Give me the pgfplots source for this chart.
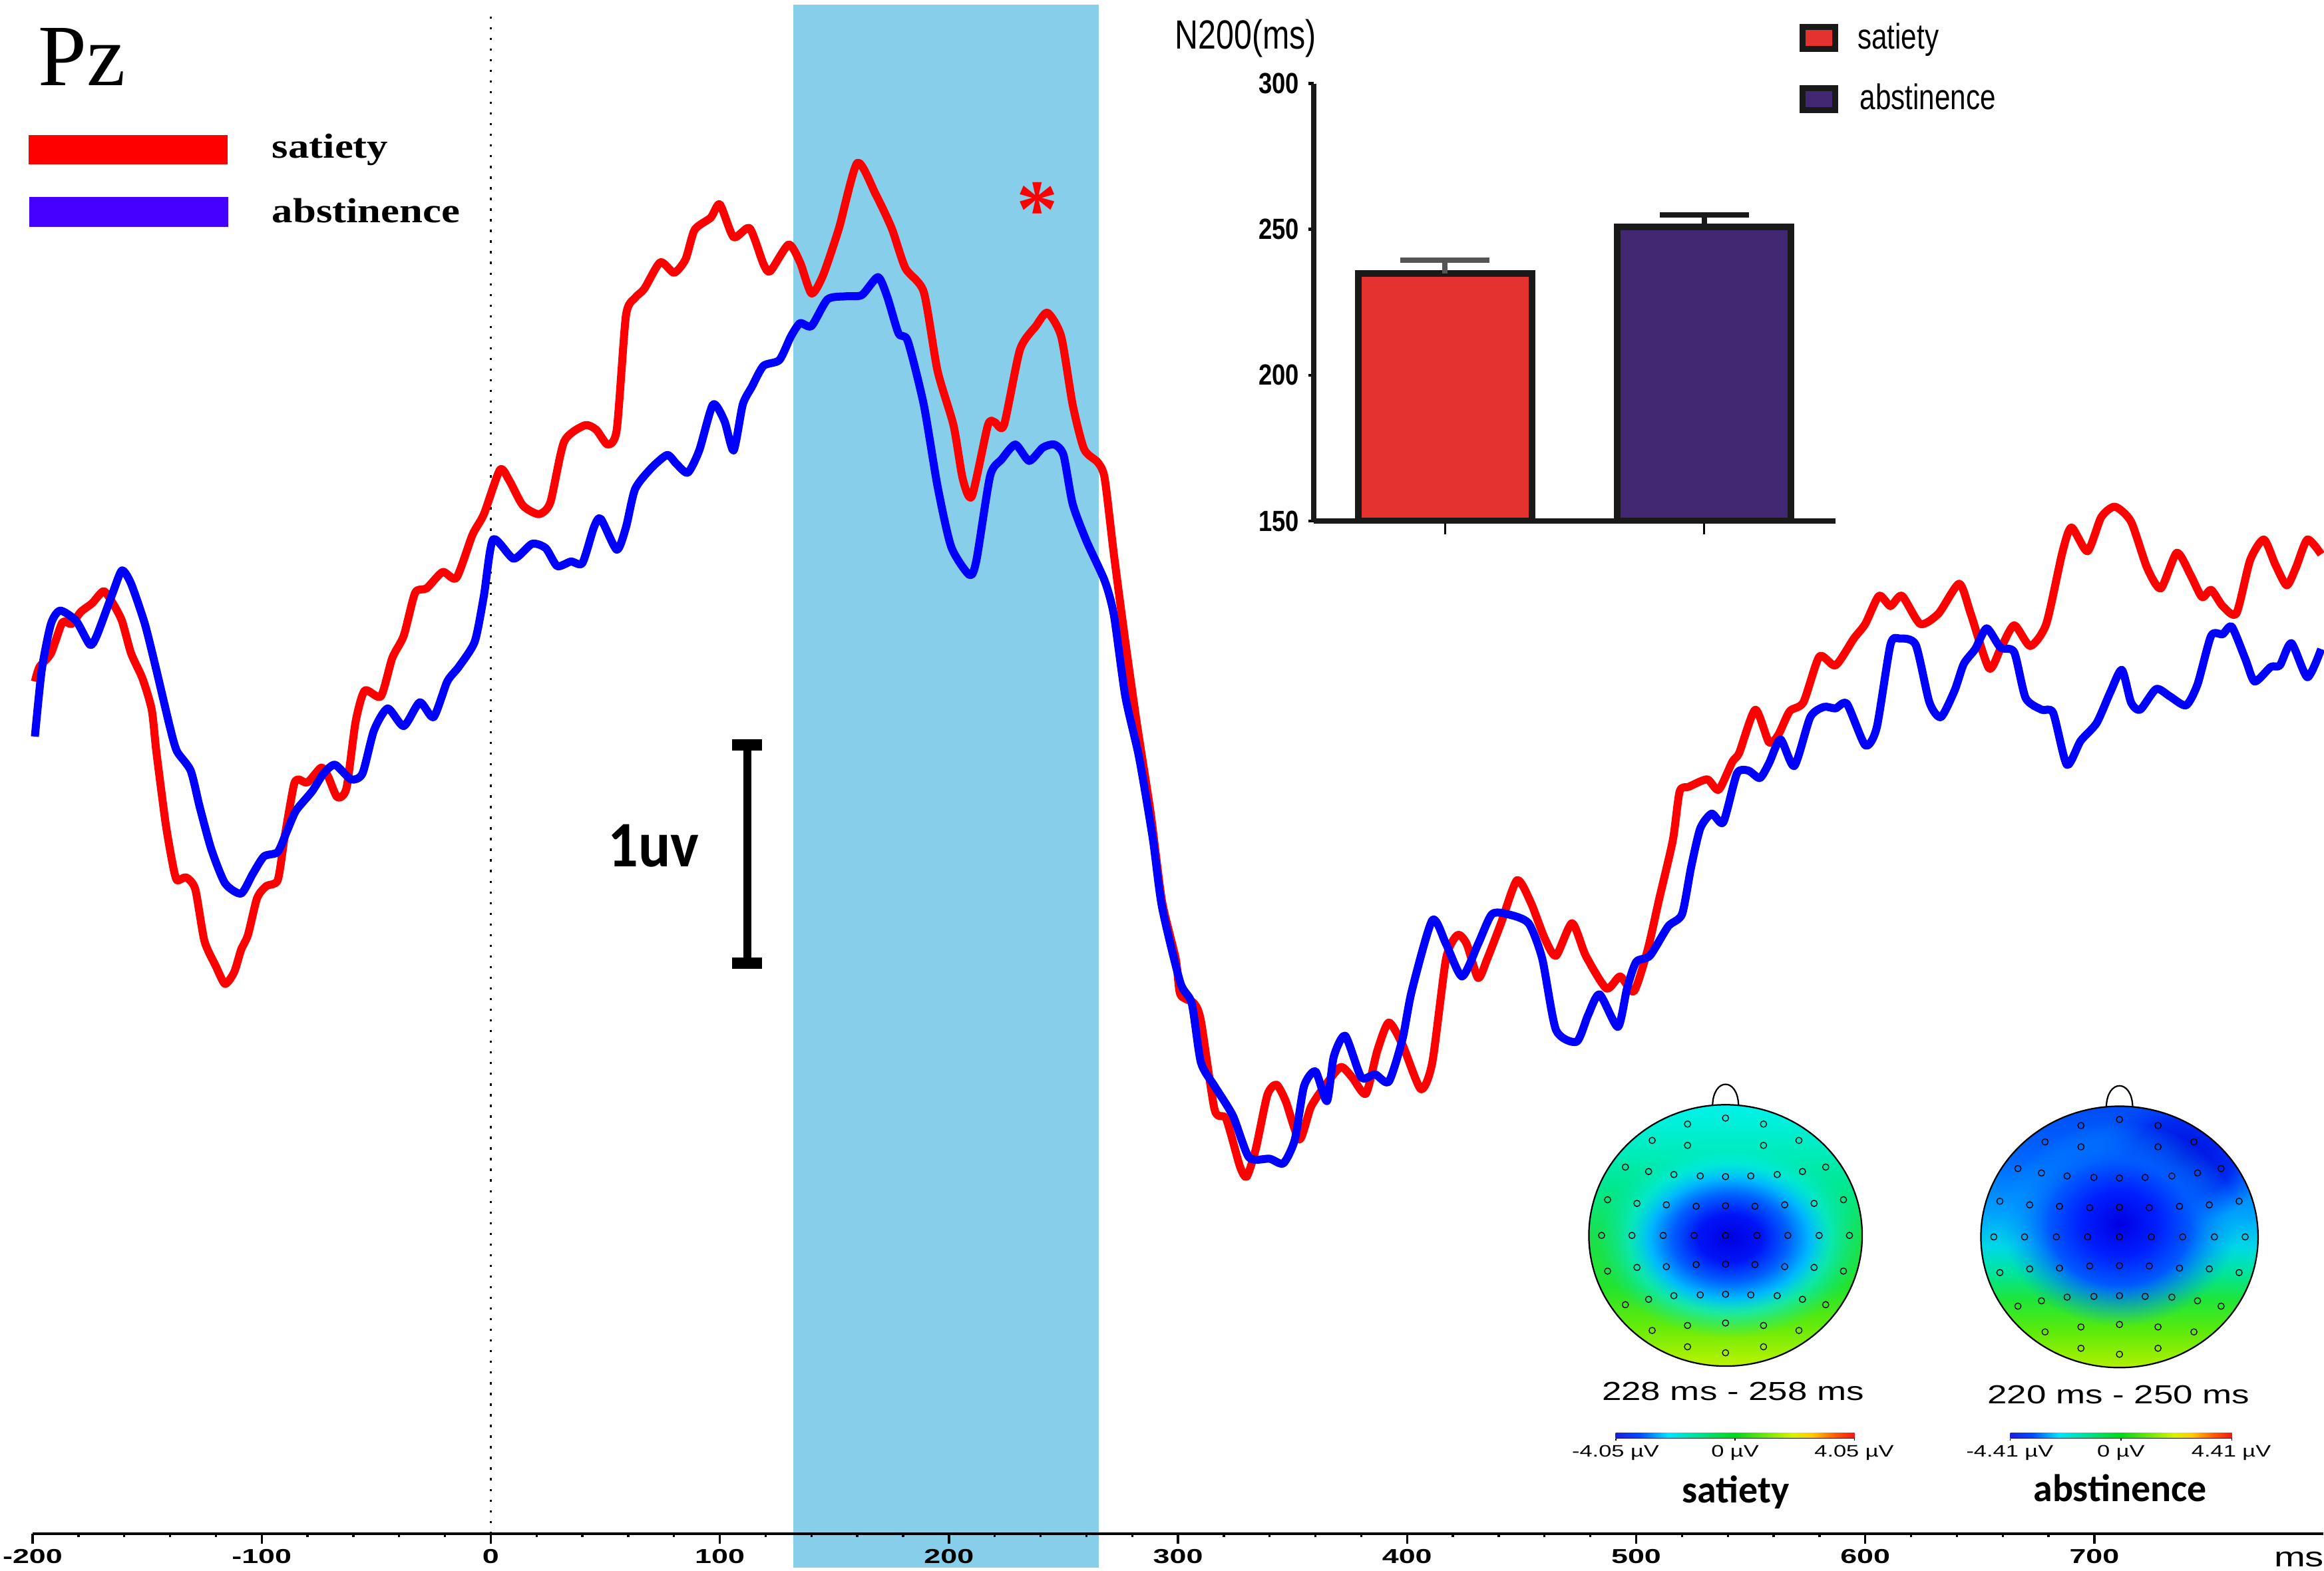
\documentclass[border=0pt]{standalone}
\usepackage{fontspec}
\setmainfont{Liberation Sans}
\newfontfamily\arialf{Liberation Sans}
\newfontfamily\timesf{Liberation Serif}
\newfontfamily\calibrif{Carlito}
\usepackage{pgfplots}
\usepackage{pgfplotstable}
\pgfplotsset{compat=1.18}
\usetikzlibrary{fadings}

\definecolor{erpred}{RGB}{255,0,0}
\definecolor{erpblue}{RGB}{0,0,255}
\definecolor{legblue}{RGB}{68,0,255}
\definecolor{skyband}{RGB}{135,206,235}
\definecolor{satred}{RGB}{228,51,46}
\definecolor{abspurple}{RGB}{66,40,115}
\definecolor{errgray}{RGB}{85,85,85}

% topographic map colourings
\pgfdeclareverticalshading{satbase}{100bp}{rgb(0bp)=(0.74,0.95,0); rgb(25bp)=(0.74,0.95,0); rgb(33bp)=(0.38,0.92,0.04); rgb(40bp)=(0.14,0.89,0.18); rgb(50bp)=(0.10,0.88,0.30); rgb(60bp)=(0.0,0.91,0.58); rgb(68bp)=(0.0,0.93,0.78); rgb(75bp)=(0.0,0.95,0.92); rgb(100bp)=(0.0,0.95,0.92)}
\pgfdeclareradialshading{satblob}{\pgfpointorigin}{rgb(0bp)=(0,0,0.88); rgb(6bp)=(0,0.08,0.97); rgb(11bp)=(0,0.38,1); rgb(15bp)=(0,0.72,1); rgb(19bp)=(0,0.92,0.95); rgb(25bp)=(0,0.92,0.75); rgb(50bp)=(0,0.92,0.75)}
\pgfdeclareverticalshading{absbase}{100bp}{rgb(0bp)=(0.70,0.94,0); rgb(25bp)=(0.70,0.94,0); rgb(32bp)=(0.36,0.92,0.04); rgb(38bp)=(0.12,0.90,0.22); rgb(43bp)=(0.0,0.90,0.60); rgb(48bp)=(0.0,0.85,0.90); rgb(55bp)=(0.0,0.62,1.0); rgb(65bp)=(0.0,0.40,1.0); rgb(75bp)=(0.0,0.30,0.96); rgb(100bp)=(0.0,0.30,0.96)}
\pgfdeclareradialshading{absblob}{\pgfpointorigin}{rgb(0bp)=(0,0,0.88); rgb(8bp)=(0,0.12,1); rgb(16bp)=(0,0.38,1); rgb(25bp)=(0,0.6,1); rgb(50bp)=(0,0.6,1)}
\pgfdeclareradialshading{absblobb}{\pgfpointorigin}{rgb(0bp)=(0,0.04,0.86); rgb(25bp)=(0,0.25,1); rgb(50bp)=(0,0.25,1)}
\pgfdeclareradialshading{blobfadeshade}{\pgfpointorigin}{color(0bp)=(white); color(15bp)=(white); color(25bp)=(black); color(50bp)=(black)}
\pgfdeclarefading{blobfade}{\pgfuseshading{blobfadeshade}}
\pgfdeclarehorizontalshading{jetbar}{100bp}{rgb(0bp)=(0.12,0.12,0.85); rgb(25bp)=(0.12,0.12,0.85); rgb(30bp)=(0,0.3,1); rgb(36bp)=(0,0.9,1); rgb(50bp)=(0,0.85,0.1); rgb(62bp)=(0.85,0.95,0); rgb(66bp)=(1,0.8,0); rgb(71bp)=(1,0.35,0); rgb(75bp)=(0.95,0.1,0.1); rgb(100bp)=(0.95,0.1,0.1)}

\pgfplotstableread{
u v
-0.278 0.852
0 0.898
0.278 0.852
-0.537 0.727
-0.278 0.689
0.278 0.689
0.537 0.727
-0.733 0.523
-0.563 0.489
-0.378 0.466
-0.185 0.455
0 0.45
0.185 0.455
0.378 0.466
0.563 0.489
0.733 0.523
-0.863 0.273
-0.648 0.245
-0.433 0.234
-0.215 0.223
0 0.227
0.215 0.223
0.433 0.234
0.648 0.245
0.863 0.273
-0.907 0
-0.685 0
-0.456 0
-0.230 0
0 0
0.230 0
0.456 0
0.685 0
0.907 0
-0.863 -0.273
-0.648 -0.245
-0.433 -0.239
-0.215 -0.223
0 -0.220
0.215 -0.223
0.433 -0.239
0.648 -0.245
0.863 -0.273
-0.733 -0.530
-0.563 -0.489
-0.378 -0.461
-0.185 -0.455
0 -0.450
0.185 -0.455
0.378 -0.461
0.563 -0.489
0.733 -0.530
-0.537 -0.727
-0.278 -0.689
0 -0.670
0.278 -0.689
0.537 -0.727
-0.278 -0.852
0 -0.898
0.278 -0.852
}\electrodes

\begin{document}
\begin{tikzpicture}
\useasboundingbox (0,0) rectangle (784pt,530pt);

% ---------------- main ERP axis ----------------
\begin{axis}[
  at={(11pt,12.5pt)}, anchor=south west,
  x=0.7728pt, y=73.65pt,
  xmin=-200, xmax=800, ymin=0, ymax=7.03,
  enlargelimits=false, clip=false,
  axis x line*=bottom, axis y line=none,
  axis line style={line width=0.9pt, -},
  xtick={-200,-100,...,700},
  xticklabels={-200,-100,0,100,200,300,400,500,600,700},
  minor x tick num=4,
  tick align=outside,
  major tick length=3.4pt, minor tick length=1.2pt,
  tick style={black, line width=0.75pt},
  xticklabel style={font=\arialf\bfseries\fontsize{6.8}{7}\selectfont, xscale=1.48, inner sep=0pt, anchor=north, yshift=-1.7pt},
  ytick=\empty,
  axis on top,
]
\addplot[fill=skyband, draw=none, forget plot] coordinates {(132,-0.156) (265.3,-0.156) (265.3,7.006) (132,7.006)} -- cycle;
\draw[black, line width=0.6pt, dash pattern=on 0.75pt off 2.85pt] (axis cs:0,0) -- (axis cs:0,6.986);
% satiety
\addplot[erpred, line width=2.7pt, smooth, tension=0.4, line join=round] coordinates {
(-199,3.904) (-197,3.971) (-192,4.033) (-187,4.175) (-183,4.168) (-179,4.223) (-174,4.263) (-169,4.318) (-165,4.263) (-161,4.182) (-157,4.033) (-152,3.917) (-148,3.775) (-146,3.585) (-142,3.259) (-139,3.075) (-137,2.994) (-133,3.007) (-129,2.953) (-125,2.716) (-120,2.600) (-116,2.519) (-112,2.573) (-109,2.675) (-106,2.743) (-102,2.912) (-98,2.967) (-93,2.994) (-90,3.191) (-86,3.428) (-84,3.456) (-80,3.442) (-74,3.510) (-71,3.469) (-67,3.374) (-63,3.415) (-59,3.720) (-55,3.863) (-48,3.836) (-43,4.012) (-38,4.114) (-33,4.311) (-28,4.331) (-21,4.406) (-15,4.379) (-8,4.576) (-3,4.671) (4,4.874) (8,4.827) (14,4.711) (21,4.671) (26,4.725) (32,5.003) (41,5.078) (46,5.058) (51,4.990) (55,5.058) (59,5.580) (63,5.662) (67,5.703) (74,5.825) (80,5.777) (85,5.838) (89,5.974) (96,6.029) (100,6.090) (106,5.940) (113,5.981) (119,5.818) (122,5.784) (130,5.906) (135,5.825) (140,5.682) (145,5.764) (152,5.981) (160,6.280) (168,6.137) (175,5.981) (181,5.798) (189,5.689) (195,5.329) (202,5.078) (206,4.834) (210,4.752) (217,5.078) (220,5.092) (224,5.078) (231,5.424) (238,5.533) (243,5.594) (249,5.485) (254,5.173) (259,4.969) (265,4.908) (268,4.834) (272,4.487) (277,4.087) (282,3.714) (288,3.306) (293,2.899) (299,2.634) (301,2.471) (307,2.430) (310,2.349) (316,1.942) (321,1.901) (327,1.684) (330,1.636) (334,1.765) (339,2.010) (343,2.057) (347,1.982) (353,1.806) (358,1.955) (364,2.050) (371,2.138) (376,2.091) (382,2.016) (387,2.213) (392,2.342) (398,2.240) (406,2.037) (411,2.159) (417,2.634) (422,2.743) (426,2.702) (431,2.546) (435,2.634) (441,2.797) (448,2.994) (454,2.892) (460,2.729) (465,2.648) (472,2.797) (478,2.648) (487,2.498) (493,2.553) (499,2.485) (505,2.675) (510,2.906) (516,3.177) (519,3.401) (523,3.422) (531,3.456) (536,3.408) (542,3.537) (545,3.578) (552,3.775) (558,3.625) (562,3.659) (567,3.768) (573,3.809) (580,4.019) (587,3.978) (595,4.101) (600,4.168) (606,4.297) (611,4.250) (616,4.297) (624,4.168) (632,4.216) (641,4.352) (646,4.216) (654,3.965) (659,4.053) (665,4.162) (672,4.067) (679,4.168) (686,4.494) (690,4.610) (697,4.501) (703,4.657) (709,4.705) (716,4.637) (723,4.426) (729,4.331) (736,4.494) (742,4.392) (747,4.291) (751,4.324) (756,4.250) (762,4.216) (768,4.460) (774,4.555) (779,4.440) (784,4.345) (788,4.426) (793,4.555) (799,4.487)
};
% abstinence
\addplot[erpblue, line width=2.7pt, smooth, tension=0.4, line join=round] coordinates {
(-199,3.652) (-196,3.958) (-192,4.168) (-188,4.229) (-181,4.182) (-175,4.073) (-172,4.114) (-165,4.311) (-161,4.413) (-157,4.352) (-151,4.168) (-146,3.958) (-140,3.693) (-137,3.585) (-131,3.496) (-127,3.327) (-122,3.136) (-116,2.980) (-109,2.933) (-104,3.021) (-99,3.103) (-93,3.123) (-89,3.218) (-85,3.313) (-78,3.401) (-73,3.483) (-68,3.523) (-61,3.456) (-56,3.483) (-51,3.680) (-45,3.781) (-38,3.700) (-31,3.809) (-25,3.741) (-19,3.904) (-14,3.971) (-7,4.087) (-3,4.297) (1,4.555) (10,4.467) (18,4.535) (24,4.515) (29,4.433) (35,4.454) (40,4.447) (45,4.610) (48,4.650) (55,4.508) (59,4.610) (63,4.786) (70,4.881) (77,4.942) (81,4.902) (86,4.861) (91,4.963) (97,5.173) (102,5.098) (106,4.963) (110,5.173) (114,5.255) (119,5.350) (126,5.377) (131,5.485) (135,5.546) (140,5.533) (147,5.655) (155,5.669) (162,5.675) (169,5.757) (173,5.669) (178,5.499) (182,5.465) (189,5.173) (195,4.800) (201,4.521) (209,4.392) (212,4.460) (218,4.847) (223,4.922) (229,4.990) (235,4.915) (241,4.976) (246,4.990) (250,4.942) (254,4.718) (260,4.549) (268,4.365) (272,4.209) (277,3.836) (283,3.557) (289,3.184) (293,2.872) (301,2.525) (306,2.430) (310,2.159) (316,2.050) (324,1.914) (331,1.724) (340,1.718) (346,1.697) (351,1.806) (355,2.050) (360,2.118) (365,1.982) (368,2.186) (373,2.281) (380,2.091) (386,2.105) (392,2.071) (398,2.267) (402,2.485) (411,2.811) (417,2.702) (424,2.553) (431,2.702) (437,2.838) (444,2.838) (453,2.797) (459,2.634) (465,2.308) (474,2.254) (479,2.376) (484,2.471) (492,2.322) (496,2.498) (500,2.620) (506,2.648) (514,2.783) (520,2.838) (524,3.055) (528,3.232) (533,3.299) (538,3.259) (544,3.483) (549,3.496) (554,3.462) (558,3.530) (563,3.639) (569,3.517) (576,3.741) (582,3.788) (587,3.781) (592,3.802) (600,3.612) (605,3.693) (611,4.073) (615,4.101) (622,4.073) (628,3.809) (633,3.741) (639,3.863) (643,3.985) (648,4.053) (653,4.148) (659,4.060) (665,4.039) (670,3.829) (677,3.775) (682,3.761) (688,3.523) (694,3.632) (701,3.714) (707,3.856) (712,3.958) (716,3.809) (720,3.775) (727,3.870) (733,3.836) (740,3.795) (745,3.890) (751,4.114) (756,4.121) (760,4.155) (766,4.005) (770,3.904) (777,3.971) (781,3.978) (786,4.080) (793,3.924) (799,4.053)
};
% 1 uV scale bar
\draw[black, line width=2.7pt] (axis cs:111.9,2.614) -- (axis cs:111.9,3.614);
\draw[black, line width=3.75pt] ([xshift=-5pt]axis cs:111.9,3.614) -- ([xshift=5pt]axis cs:111.9,3.614);
\draw[black, line width=3.75pt] ([xshift=-5pt]axis cs:111.9,2.614) -- ([xshift=5pt]axis cs:111.9,2.614);
% significance marker
\node[text=erpred, font=\timesf\bfseries\fontsize{28}{28}\selectfont, inner sep=0pt, anchor=base] at ([yshift=-14pt]axis cs:238.7,6.13) {*};
\end{axis}

\node[font=\arialf\fontsize{9.35}{10}\selectfont, xscale=1.35, inner sep=0pt] at (775.6pt,3.75pt) {ms};
\node[font=\calibrif\bfseries\fontsize{21.9}{22}\selectfont, xscale=0.925, inner sep=0pt] at (220.5pt,244.5pt) {1uv};

% title and legend of the ERP plot
\node[font=\timesf\fontsize{29.5}{30}\selectfont, inner sep=0pt, anchor=base west] at (12.6pt,501.2pt) {Pz};
\fill[erpred] (9.75pt,474.5pt) rectangle (76.7pt,484.35pt);
\fill[legblue] (9.95pt,453.5pt) rectangle (76.95pt,463.55pt);
\node[font=\timesf\bfseries\fontsize{11.75}{12}\selectfont, xscale=1.2, inner sep=0pt, anchor=base west] at (91.55pt,476.7pt) {satiety};
\node[font=\timesf\bfseries\fontsize{11.75}{12}\selectfont, xscale=1.2, inner sep=0pt, anchor=base west] at (91.55pt,454.8pt) {abstinence};

% ---------------- inset bar chart ----------------
\begin{axis}[
  at={(443.2pt,354.2pt)}, anchor=south west, scale only axis,
  width=175.9pt, height=147.6pt,
  xmin=-0.506, xmax=1.505, ymin=150, ymax=300,
  axis x line*=bottom, axis y line*=left,
  axis line style={line width=1.85pt, -, black!90},
  xtick={0,1}, xticklabels={},
  ytick={150,200,250,300},
  yticklabels={150,200,250,300},
  tick align=outside,
  xtick style={/pgfplots/major tick length=4.5pt, line width=0.7pt, black},
  ytick style={/pgfplots/major tick length=1.9pt, line width=1pt, black},
  yticklabel style={font=\arialf\bfseries\fontsize{9.85}{10}\selectfont, xscale=0.83, inner sep=0pt, anchor=east, xshift=-0.6pt},
  axis on top,
]
\addplot[ybar, bar width=58.65pt, bar shift=0pt, fill=satred, draw=black!90, line width=2.25pt,
  error bars/.cd, y dir=plus, y explicit,
  error bar style={line width=1.8pt, draw=errgray},
  error mark options={rotate=90, line width=1.75pt, mark size=15pt, draw=errgray}]
  coordinates {(0,234.8) +- (0,4.6)};
\addplot[ybar, bar width=58.65pt, bar shift=0pt, fill=abspurple, draw=black!90, line width=2.25pt,
  error bars/.cd, y dir=plus, y explicit,
  error bar style={line width=1.8pt, draw=black!90},
  error mark options={rotate=90, line width=1.75pt, mark size=15pt, draw=black!90}]
  coordinates {(1,250.9) +- (0,4.1)};
\end{axis}
\node[font=\arialf\fontsize{13.75}{14}\selectfont, xscale=0.79, inner sep=0pt, anchor=base east] at (444.2pt,513.55pt) {N200(ms)};
\draw[line width=2pt, draw=black!90, fill=satred] (608pt,513.4pt) rectangle (619pt,520.8pt);
\draw[line width=2pt, draw=black!90, fill=abspurple] (608pt,492.85pt) rectangle (619pt,500.25pt);
\node[font=\arialf\fontsize{12}{12}\selectfont, xscale=0.79, inner sep=0pt, anchor=base west] at (626.5pt,513.55pt) {satiety};
\node[font=\arialf\fontsize{12}{12}\selectfont, xscale=0.79, inner sep=0pt, anchor=base west] at (627.25pt,493pt) {abstinence};

% ---------------- topographic maps ----------------
% satiety head
\begin{scope}[shift={(582.1pt,113.15pt)}, x=46.1pt, y=44.1pt]
  \begin{scope}
    \clip (0,0) ellipse [x radius=1, y radius=1];
    \shade[shading=satbase] (-1,-1) rectangle (1,1);
    \shade[shading=satblob, path fading=blobfade] (0.03,-0.02) ellipse [x radius=0.97, y radius=0.76];
  \end{scope}
\end{scope}
\begin{axis}[at={(582.1pt,113.15pt)}, anchor=center, scale only axis, width=92.2pt, height=88.2pt,
  xmin=-1, xmax=1, ymin=-1, ymax=1, hide axis, clip=false]
\addplot[only marks, mark=o, mark size=1.05pt, mark options={line width=0.3pt, black}] table[x=u, y=v] {\electrodes};
\end{axis}
\begin{scope}[shift={(582.1pt,113.15pt)}, x=46.1pt, y=44.1pt]
  \draw[line width=0.5pt] (0,0) ellipse [x radius=1, y radius=1];
  \draw[line width=0.5pt] (-0.095,0.995) .. controls (-0.09,1.21) and (0.09,1.21) .. (0.095,0.995);
\end{scope}

% abstinence head
\begin{scope}[shift={(715pt,112.65pt)}, x=46.75pt, y=44.1pt]
  \begin{scope}
    \clip (0,0) ellipse [x radius=1, y radius=1];
    \shade[shading=absbase] (-1,-1) rectangle (1,1);
    \shade[shading=absblobb, path fading=blobfade] (0.45,0.6) ellipse [x radius=0.6, y radius=0.5];
    \shade[shading=absblob, path fading=blobfade] (0,0.1) ellipse [x radius=0.85, y radius=0.78];
  \end{scope}
\end{scope}
\begin{axis}[at={(715pt,112.65pt)}, anchor=center, scale only axis, width=93.5pt, height=88.2pt,
  xmin=-1, xmax=1, ymin=-1, ymax=1, hide axis, clip=false]
\addplot[only marks, mark=o, mark size=1.05pt, mark options={line width=0.3pt, black}] table[x=u, y=v] {\electrodes};
\end{axis}
\begin{scope}[shift={(715pt,112.65pt)}, x=46.75pt, y=44.1pt]
  \draw[line width=0.5pt] (0,0) ellipse [x radius=1, y radius=1];
  \draw[line width=0.5pt] (-0.095,0.995) .. controls (-0.09,1.21) and (0.09,1.21) .. (0.095,0.995);
\end{scope}

% time windows
\node[font=\arialf\fontsize{8.8}{9}\selectfont, xscale=1.35, inner sep=0pt] at (584.65pt,60.5pt) {228 ms - 258 ms};
\node[font=\arialf\fontsize{8.8}{9}\selectfont, xscale=1.35, inner sep=0pt] at (714.7pt,59.5pt) {220 ms - 250 ms};

% colour bars
\shade[shading=jetbar] (545.05pt,44.7pt) rectangle (625.6pt,46.5pt);
\draw[line width=0.4pt] (545.05pt,44.7pt) -- (625.6pt,44.7pt);
\foreach \xx in {545.05,585.3,625.6} \draw[line width=0.4pt] (\xx pt,44.7pt) -- (\xx pt,43.9pt);
\shade[shading=jetbar] (678.15pt,44.7pt) rectangle (752.9pt,46.5pt);
\draw[line width=0.4pt] (678.15pt,44.7pt) -- (752.9pt,44.7pt);
\foreach \xx in {678.15,715.5,752.9} \draw[line width=0.4pt] (\xx pt,44.7pt) -- (\xx pt,43.9pt);
\begin{scope}[every node/.style={font=\arialf\fontsize{5.6}{6}\selectfont, xscale=1.38, inner sep=0pt, anchor=base}]
\node at (545pt,38.45pt) {-4.05 µV};
\node at (585.3pt,38.45pt) {0 µV};
\node at (625.5pt,38.45pt) {4.05 µV};
\node at (678pt,38.45pt) {-4.41 µV};
\node at (715.5pt,38.45pt) {0 µV};
\node at (752.7pt,38.45pt) {4.41 µV};
\end{scope}

% condition names
\node[font=\calibrif\bfseries\fontsize{13}{13}\selectfont, inner sep=0pt, anchor=base] at (585.5pt,23.0pt) {satiety};
\node[font=\calibrif\bfseries\fontsize{13}{13}\selectfont, inner sep=0pt, anchor=base] at (715.2pt,23.3pt) {abstinence};
\end{tikzpicture}
\end{document}
